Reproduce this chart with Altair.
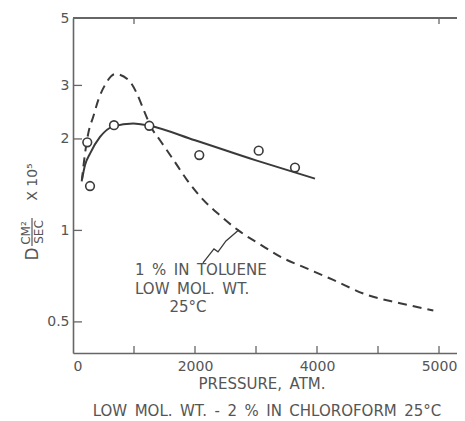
import altair as alt
import pandas as pd

# --- data ---
circ_p = [234, 279, 672, 1251, 2070, 3044, 3639]
circ_d = [1.95, 1.40, 2.22, 2.21, 1.77, 1.83, 1.61]

solid_p = [148, 197, 279, 443, 661, 989, 1251, 2000, 3000, 3967]
solid_d = [1.47, 1.64, 1.79, 2.03, 2.20, 2.25, 2.21, 1.98, 1.70, 1.48]

dash_p = [143, 197, 251, 333, 415, 525, 689, 907, 1044, 1180, 1290, 1426, 1644,
          1864, 2136, 2410, 2710, 3066, 3448, 3831, 4267, 4815, 5361, 5907]
dash_d = [1.45, 1.79, 2.09, 2.37, 2.69, 3.01, 3.27, 3.13, 2.83, 2.43, 2.17, 1.98, 1.71,
          1.47, 1.26, 1.12, 1.00, 0.90, 0.81, 0.75, 0.687, 0.614, 0.576, 0.545]

leader_p = [2131, 2311, 2377, 2508, 2721]
leader_d = [0.782, 0.869, 0.850, 0.923, 1.005]

x_label_vals = [0, 2000, 4000, 6000]
y_label_vals = [0.5, 1, 2, 3, 5]
x_tick_vals = [1000, 2000, 3000, 4000, 5000, 6000]
y_tick_vals = [0.5, 1, 2, 3]
top_tick_vals = [1000, 6000]

SP = "\u2002"  # en space: keeps the wide word gaps of the hand lettering
note_lines = [SP.join(["1", "%", "IN", "TOLUENE"]), SP.join(["LOW", "MOL.", "WT."]), "25°C"]
caption = SP.join(["LOW", "MOL.", "WT.", "-", "2", "%", "IN", "CHLOROFORM", "25°C"])
x_title = SP.join(["PRESSURE,", "ATM."])

INK = "#3a3a3a"
TXT = "#555555"
FONT = "DejaVu Sans"
W, H = 384, 335

xs = alt.Scale(domain=[0, 6295], nice=False)
ys = alt.Scale(type="log", domain=[0.395, 5], nice=False)

xaxis = alt.Axis(values=x_label_vals, labelExpr="datum.value == 6000 ? '5000' : format(datum.value, 'd')",
                 ticks=False, tickSize=0, grid=False, title=None, labelPadding=6,
                 labelFont=FONT, labelFontSize=14, labelColor=TXT,
                 domainColor="#666", domainWidth=1.6)
yaxis = alt.Axis(values=y_label_vals, labelExpr="format(datum.value, '')",
                 ticks=False, tickSize=0, grid=False, title=None, labelPadding=4,
                 labelFont=FONT, labelFontSize=14, labelColor=TXT,
                 domainColor="#666", domainWidth=1.6, labelFlush=False)

circ_df = pd.DataFrame({"p": circ_p, "d": circ_d})
solid_df = pd.DataFrame({"p": solid_p, "d": solid_d})
dash_df = pd.DataFrame({"p": dash_p, "d": dash_d})
leader_df = pd.DataFrame({"p": leader_p, "d": leader_d, "i": list(range(len(leader_p)))})

solid = alt.Chart(solid_df).mark_line(color=INK, strokeWidth=2, interpolate="monotone").encode(
    x=alt.X("p:Q", scale=xs, axis=xaxis),
    y=alt.Y("d:Q", scale=ys, axis=yaxis),
)
dashed = alt.Chart(dash_df).mark_line(color=INK, strokeWidth=2, strokeDash=[9, 6],
                                      interpolate="monotone").encode(
    x=alt.X("p:Q", scale=xs), y=alt.Y("d:Q", scale=ys))
circles = alt.Chart(circ_df).mark_point(shape="circle", size=75, filled=True, fill="white",
                                        stroke=INK, strokeWidth=1.6, opacity=1).encode(
    x=alt.X("p:Q", scale=xs), y=alt.Y("d:Q", scale=ys))
leader = alt.Chart(leader_df).mark_line(color=INK, strokeWidth=1.3).encode(
    x=alt.X("p:Q", scale=xs), y=alt.Y("d:Q", scale=ys), order="i:O")

xt = alt.Chart(pd.DataFrame({"v": x_tick_vals})).mark_rule(color="#666", strokeWidth=1.3).encode(
    x=alt.X("v:Q", scale=xs), y=alt.value(H), y2=alt.value(H - 7))
tt = alt.Chart(pd.DataFrame({"v": top_tick_vals})).mark_rule(color="#666", strokeWidth=1.3).encode(
    x=alt.X("v:Q", scale=xs), y=alt.value(0), y2=alt.value(6))
yt = alt.Chart(pd.DataFrame({"v": y_tick_vals})).mark_rule(color="#666", strokeWidth=1.3).encode(
    y=alt.Y("v:Q", scale=ys), x=alt.value(0), x2=alt.value(9))
top = alt.Chart(pd.DataFrame({"v": [5]})).mark_rule(color="#666", strokeWidth=1.8).encode(
    y=alt.Y("v:Q", scale=ys), x=alt.value(0), x2=alt.value(W))

def txt(s, x, y, size=14, align="left", angle=0, color=TXT):
    return alt.Chart(pd.DataFrame({"t": [s]})).mark_text(
        font=FONT, fontSize=size, align=align, baseline="middle", angle=angle, color=color
    ).encode(text="t:N", x=alt.value(x), y=alt.value(y))

texts = [
    txt(note_lines[0], 62, 252, size=15),
    txt(note_lines[1], 62, 271, size=15),
    txt(note_lines[2], 115, 289, size=15, align="center"),
    txt(x_title, 189, 366, size=15, align="center"),
    txt(caption, 194, 393, size=15, align="center"),
    txt("D", -40, 236, size=17, align="center", angle=270),
    txt("CM²", -47, 215, size=12, align="center", angle=270),
    txt("SEC", -34, 214, size=12, align="center", angle=270),
    txt("X 10⁵", -40, 164, size=14, align="center", angle=270),
]
frac = alt.Chart(pd.DataFrame({"a": [0]})).mark_rule(color=TXT, strokeWidth=1.2).encode(
    x=alt.value(-41), x2=alt.value(-41), y=alt.value(200), y2=alt.value(228))

chart = alt.layer(solid, dashed, circles, leader, xt, tt, yt, top, frac, *texts).properties(
    width=W, height=H,
    autosize=alt.AutoSizeParams(type="none"),
    padding={"left": 65, "top": 10, "right": 0, "bottom": 66},
    background="white",
).configure_view(stroke=None)

chart.save("out.html", embed_options={"renderer": "svg", "actions": False})
